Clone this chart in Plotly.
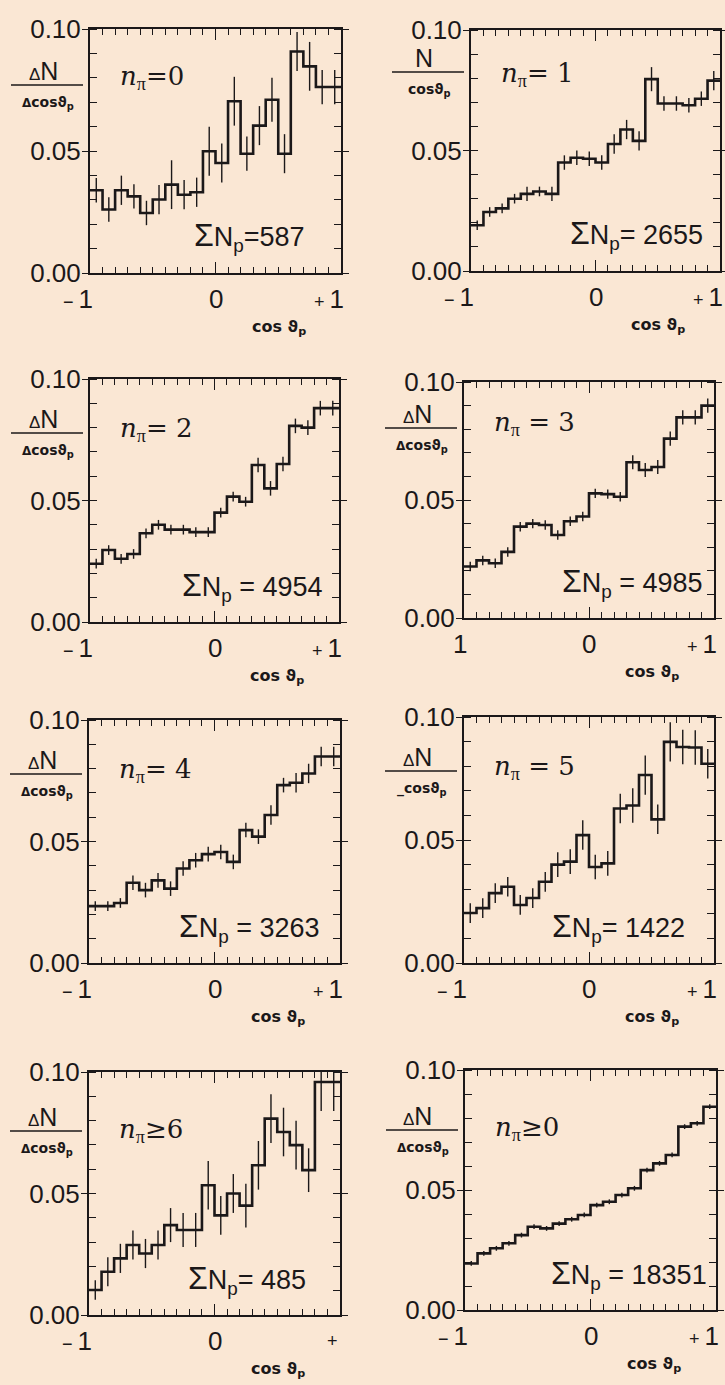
import plotly.graph_objects as go

W, H = 725, 1385
BG = "#FAE7D4"
INK = "#1b1819"
FONT = "Liberation Sans, Arial, sans-serif"

# bin edges in cos(theta_p), 20 bins
cos_edges = [-1.0, -0.9, -0.8, -0.7, -0.6, -0.5, -0.4, -0.3, -0.2, -0.1, 0.0,
             0.1, 0.2, 0.3, 0.4, 0.5, 0.6, 0.7, 0.8, 0.9, 1.0]

# dN / dcos(theta_p) per bin and statistical errors, one pair per n_pi class
n0_vals = [0.0339, 0.0260, 0.0339, 0.0314, 0.0246, 0.0301, 0.0362, 0.0321, 0.0331, 0.0499,
           0.0451, 0.0704, 0.0489, 0.0604, 0.0710, 0.0489, 0.0908, 0.0847, 0.0762, 0.0762]
n0_errs = [0.005, 0.005, 0.006, 0.005, 0.005, 0.006, 0.010, 0.006, 0.006, 0.010,
           0.008, 0.010, 0.007, 0.008, 0.009, 0.008, 0.008, 0.010, 0.007, 0.007]

n1_vals = [0.0190, 0.0245, 0.0260, 0.0300, 0.0320, 0.0330, 0.0320, 0.0450, 0.0470, 0.0466,
           0.0450, 0.0527, 0.0587, 0.0540, 0.0796, 0.0695, 0.0695, 0.0688, 0.0715, 0.0790]
n1_errs = [0.002, 0.002, 0.002, 0.002, 0.003, 0.002, 0.003, 0.003, 0.003, 0.003,
           0.003, 0.004, 0.004, 0.004, 0.005, 0.003, 0.003, 0.003, 0.003, 0.004]

n2_vals = [0.0240, 0.0296, 0.0260, 0.0280, 0.0365, 0.0400, 0.0380, 0.0380, 0.0370, 0.0370,
           0.0450, 0.0516, 0.0495, 0.0646, 0.0550, 0.0650, 0.0807, 0.0800, 0.0880, 0.0880]
n2_errs = [0.002, 0.002, 0.002, 0.002, 0.002, 0.002, 0.002, 0.002, 0.002, 0.002,
           0.002, 0.002, 0.002, 0.003, 0.003, 0.003, 0.003, 0.003, 0.003, 0.003]

n3_vals = [0.0218, 0.0244, 0.0232, 0.0280, 0.0387, 0.0400, 0.0394, 0.0352, 0.0410, 0.0430,
           0.0528, 0.0525, 0.0514, 0.0660, 0.0627, 0.0640, 0.0760, 0.0850, 0.0850, 0.0900]
n3_errs = [0.002, 0.002, 0.002, 0.002, 0.002, 0.002, 0.002, 0.002, 0.002, 0.002,
           0.002, 0.002, 0.002, 0.003, 0.003, 0.003, 0.003, 0.003, 0.003, 0.003]

n4_vals = [0.0234, 0.0234, 0.0247, 0.0330, 0.0300, 0.0340, 0.0306, 0.0389, 0.0423, 0.0448,
           0.0457, 0.0416, 0.0547, 0.0520, 0.0609, 0.0732, 0.0742, 0.0780, 0.0850, 0.0850]
n4_errs = [0.002, 0.002, 0.002, 0.003, 0.003, 0.003, 0.003, 0.003, 0.003, 0.003,
           0.003, 0.003, 0.003, 0.003, 0.004, 0.003, 0.004, 0.004, 0.004, 0.004]

n5_vals = [0.0203, 0.0223, 0.0284, 0.0310, 0.0236, 0.0264, 0.0330, 0.0400, 0.0412, 0.0520,
           0.0390, 0.0405, 0.0628, 0.0640, 0.0764, 0.0584, 0.0899, 0.0878, 0.0876, 0.0810]
n5_errs = [0.004, 0.004, 0.004, 0.004, 0.004, 0.004, 0.004, 0.005, 0.005, 0.006,
           0.005, 0.005, 0.006, 0.007, 0.008, 0.006, 0.008, 0.007, 0.007, 0.006]

n6_vals = [0.0103, 0.0178, 0.0233, 0.0288, 0.0253, 0.0288, 0.0370, 0.0350, 0.0350, 0.0534,
           0.0410, 0.0500, 0.0450, 0.0616, 0.0808, 0.0753, 0.0699, 0.0596, 0.0959, 0.0959]
n6_errs = [0.004, 0.006, 0.006, 0.006, 0.006, 0.006, 0.007, 0.007, 0.007, 0.010,
           0.008, 0.008, 0.009, 0.010, 0.010, 0.010, 0.010, 0.009, 0.012, 0.012]

nall_vals = [0.0194, 0.0236, 0.0257, 0.0278, 0.0312, 0.0347, 0.0340, 0.0360, 0.0378, 0.0396,
             0.0437, 0.0451, 0.0479, 0.0507, 0.0583, 0.0611, 0.0646, 0.0764, 0.0778, 0.0847]
nall_errs = [0.001, 0.001, 0.001, 0.001, 0.001, 0.001, 0.001, 0.001, 0.001, 0.001,
             0.001, 0.001, 0.001, 0.001, 0.001, 0.001, 0.001, 0.001, 0.001, 0.001]

panel_values = [n0_vals, n1_vals, n2_vals, n3_vals, n4_vals, n5_vals, n6_vals, nall_vals]
panel_errors = [n0_errs, n1_errs, n2_errs, n3_errs, n4_errs, n5_errs, n6_errs, nall_errs]

# multiplicity labels and proton totals
n_pi_labels = ["=0", "= 1", "= 2", " = 3", "= 4", " = 5", "≥6", "≥0"]
sum_labels = ["=587", "= 2655", " = 4954", " = 4985", " = 3263", "= 1422", "= 485", " = 18351"]
y_numerators = ["ΔN", "N", "ΔN", "ΔN", "ΔN", "ΔN", "ΔN", "ΔN"]
y_denominators = ["Δcos", "cos", "Δcos", "Δcos", "Δcos", "_cos", "Δcos", "Δcos"]
x_left_labels = ["−1", "−1", "−1", "1", "−1", "−1", "−1", "−1"]
x_right_labels = ["+1", "+1", "+1", "+1", "+1", "+1", "+", "+1"]

# frame of each panel in pixels: left, right, top, bottom
boxes = [(90, 341, 29, 273), (471, 720, 30, 271),
         (90, 339, 379, 622), (464, 714, 382, 618),
         (89, 340, 720, 963), (464, 714, 717, 963),
         (89, 340, 1072, 1315), (465, 716, 1070, 1310)]
sum_right_gap = [34, 15, 14, 9, 18, 27, 32, 7]
npi_drop = [48, 45, 51, 41, 50, 50, 58, 58]
frac_drop = [2, -12, 0, -8, 0, 0, 5, 6]


def fx(p):
    return p / W


def fy(p):
    return 1 - p / H


fig = go.Figure()
annotations = []
shapes = []
layout_axes = {}

for i, (vals, errs) in enumerate(zip(panel_values, panel_errors)):
    k = "" if i == 0 else str(i + 1)
    xa, ya = "x" + k, "y" + k
    left, right, top, bottom = boxes[i]

    centers = [(a + b) / 2 for a, b in zip(cos_edges[:-1], cos_edges[1:])]
    fig.add_trace(go.Scatter(
        x=cos_edges, y=vals + [vals[-1]], mode="lines", line_shape="hv",
        line=dict(color=INK, width=2.6), xaxis=xa, yaxis=ya,
        showlegend=False, hoverinfo="skip"))
    fig.add_trace(go.Scatter(
        x=centers, y=vals, mode="markers", marker=dict(size=1, opacity=0),
        error_y=dict(type="data", array=errs, visible=True, thickness=1.4,
                     width=0, color=INK),
        xaxis=xa, yaxis=ya, showlegend=False, hoverinfo="skip"))

    layout_axes["xaxis" + k] = dict(
        domain=[fx(left), fx(right)], range=[-1, 1], anchor=ya, automargin=False,
        showline=True, linecolor=INK, linewidth=2, mirror="ticks",
        ticks="inside", tickvals=[-1, 0, 1], ticklen=11, tickwidth=1.4,
        tickcolor=INK, showticklabels=False, showgrid=False, zeroline=False,
        minor=dict(ticks="inside", dtick=0.1, tick0=-1, ticklen=6,
                   tickwidth=1.3, tickcolor=INK, showgrid=False),
        fixedrange=True)
    layout_axes["yaxis" + k] = dict(
        domain=[fy(bottom), fy(top)], range=[0, 0.1], anchor=xa, automargin=False,
        showline=True, linecolor=INK, linewidth=2, mirror="ticks",
        ticks="outside", tickvals=[0, 0.05, 0.1],
        ticktext=["0.00", "0.05", "0.10"], ticklen=6, tickwidth=1.4,
        tickcolor=INK, tickfont=dict(family=FONT, size=26, color=INK),
        ticklabelstandoff=-4,
        showgrid=False, zeroline=False,
        minor=dict(ticks="inside", dtick=0.01, tick0=0, ticklen=7,
                   tickwidth=1.3, tickcolor=INK, showgrid=False),
        fixedrange=True)

    # x tick labels under the frame
    ty = fy(bottom + 26)
    annotations += [
        dict(x=fx(left + 5), y=ty, xref="paper", yref="paper", xanchor="right",
             yanchor="middle", showarrow=False,
             text=x_left_labels[i].replace("−", "<span style='font-size:18px'>− </span>"),
             font=dict(family=FONT, size=26, color=INK)),
        dict(x=fx((left + right) / 2), y=ty, xref="paper", yref="paper",
             xanchor="center", yanchor="middle", showarrow=False, text="0",
             font=dict(family=FONT, size=26, color=INK)),
        dict(x=fx(right + 5), y=ty, xref="paper", yref="paper", xanchor="right",
             yanchor="middle", showarrow=False,
             text=x_right_labels[i].replace("+", "<span style='font-size:18px'>+ </span>"),
             font=dict(family=FONT, size=26, color=INK)),
    ]
    # x axis title
    annotations.append(dict(
        x=fx(right - 62), y=fy(bottom + 54), xref="paper", yref="paper",
        xanchor="center", yanchor="middle", showarrow=False,
        text="<b>cos ϑ<sub>p</sub></b>",
        font=dict(family="DejaVu Sans, sans-serif", size=16, color=INK)))

    # y axis title as a fraction
    d = frac_drop[i]
    num = y_numerators[i].replace("Δ", "<span style='font-size:17px'>Δ</span>")
    annotations.append(dict(
        x=fx(left - 47), y=fy(top + 40 + d), xref="paper", yref="paper",
        xanchor="center", yanchor="middle", showarrow=False, text=num,
        font=dict(family=FONT, size=25, color=INK)))
    shapes.append(dict(
        type="line", xref="paper", yref="paper",
        x0=fx(left - 79), x1=fx(left - 7), y0=fy(top + 54 + d), y1=fy(top + 54 + d),
        line=dict(color=INK, width=1.6)))
    den = y_denominators[i].replace("Δ", "<span style='font-size:12px'>Δ</span>")
    annotations.append(dict(
        x=fx(left - 42), y=fy(top + 72 + d), xref="paper", yref="paper",
        xanchor="center", yanchor="middle", showarrow=False,
        text="<b>" + den + "ϑ<sub>p</sub></b>",
        font=dict(family="DejaVu Sans, sans-serif", size=14, color=INK)))

    # multiplicity label
    annotations.append(dict(
        x=fx(left + 28), y=fy(top + npi_drop[i]), xref="paper", yref="paper",
        xanchor="left", yanchor="middle", showarrow=False,
        text="<i>n</i><sub><span style='font-family:Liberation Serif'>π</span></sub>"
             + n_pi_labels[i],
        font=dict(family="DejaVu Serif, serif", size=26, color=INK)))
    # proton total
    annotations.append(dict(
        x=fx(right - sum_right_gap[i]), y=fy(bottom - 36), xref="paper", yref="paper",
        xanchor="right", yanchor="middle", showarrow=False,
        text="<span style='font-size:32px'>Σ</span>N<sub>p</sub>" + sum_labels[i],
        font=dict(family=FONT, size=27, color=INK)))

fig.update_layout(
    width=W, height=H, margin=dict(l=0, r=0, t=0, b=0, autoexpand=False),
    paper_bgcolor=BG, plot_bgcolor=BG,
    annotations=annotations, shapes=shapes, showlegend=False,
    **layout_axes)

fig.write_html("out.html")
